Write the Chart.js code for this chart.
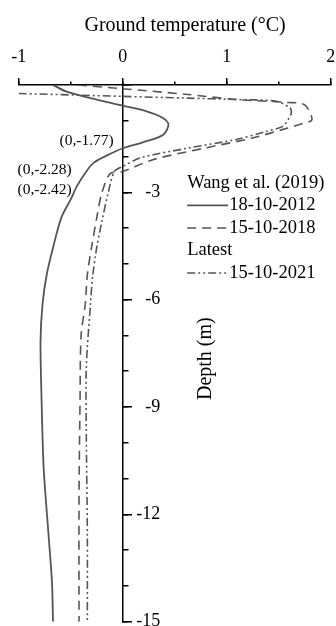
<!DOCTYPE html>
<html>
<head>
<meta charset="utf-8">
<script src="https://cdn.jsdelivr.net/npm/chart.js@4.4.0/dist/chart.umd.min.js"></script>
<style>
  html, body { margin: 0; padding: 0; background: #fff; }
  canvas { display: block; }
</style>
</head>
<body>
<canvas id="chart" width="336" height="626"></canvas>
<script>
// Ground temperature profiles (depth in m, temperature in degC)
const depth2012 = [0, -0.19, -0.37, -0.58, -0.74, -0.93, -1.11, -1.39, -1.6, -1.77, -1.97, -2.18, -2.46, -2.83, -3.2, -3.71, -4.55, -5.29, -6.1, -7.15, -8.8, -10.7, -12.5, -13.9, -15];
const temp2012  = [-0.67, -0.54, -0.31, 0, 0.23, 0.39, 0.44, 0.39, 0.2, 0, -0.15, -0.28, -0.36, -0.44, -0.5, -0.59, -0.67, -0.73, -0.77, -0.79, -0.78, -0.76, -0.715, -0.68, -0.67];

const depth2018 = [0, -0.1, -0.26, -0.41, -0.49, -0.56, -0.97, -1.08, -1.21, -1.49, -1.77, -2.09, -2.42, -2.48, -3.02, -3.72, -4.55, -5.3, -6.13, -7.0, -8.8, -11.6, -15];
const temp2018  = [-0.43, -0.03, 0.6, 1.1, 1.58, 1.75, 1.82, 1.73, 1.58, 1.24, 0.78, 0.29, 0, -0.12, -0.2, -0.25, -0.3, -0.34, -0.36, -0.4, -0.41, -0.42, -0.42];

const depth2021 = [-0.24, -0.32, -0.37, -0.41, -0.46, -0.65, -0.8, -0.97, -1.16, -1.3, -1.52, -1.77, -2.04, -2.28, -2.42, -3.02, -3.81, -4.55, -5.38, -6.13, -7.9, -9.75, -12.5, -15];
const temp2021  = [-1.0, 0, 0.62, 1.1, 1.48, 1.61, 1.62, 1.59, 1.54, 1.38, 1.1, 0.62, 0.17, 0, -0.08, -0.14, -0.2, -0.25, -0.29, -0.31, -0.35, -0.35, -0.34, -0.34];

const seriesNames = ['18-10-2012', '15-10-2018', '15-10-2021'];
const legendGroups = ['Wang et al. (2019)', 'Latest'];
const crossLabels = ['(0,-1.77)', '(0,-2.28)', '(0,-2.42)'];

const FONT = "'Liberation Serif', 'Times New Roman', serif";
const LINE = '#555555';

function toPoints(depths, temps) {
    return depths.map((d, i) => ({ x: temps[i], y: d }));
}

// keep the tick label overhang from shrinking the plot area
function noPadding(scale) {
    scale.paddingLeft = 0;
    scale.paddingRight = 0;
    scale.paddingTop = 0;
    scale.paddingBottom = 0;
}

// draws depth tick labels, titles, crossing labels and the grouped legend
const extras = {
    id: 'extras',
    afterDraw(chart) {
        const ctx = chart.ctx;
        const xs = chart.scales.x;
        const ys = chart.scales.y;
        ctx.save();
        ctx.fillStyle = '#000';
        ctx.textBaseline = 'middle';

        // depth tick labels, right of the zero line
        ctx.font = '18px ' + FONT;
        ctx.textAlign = 'right';
        const labelX = xs.getPixelForValue(0) + 37.5;
        ys.ticks.forEach(t => {
            if (t.value !== 0) {
                ctx.fillText(String(t.value), labelX, ys.getPixelForValue(t.value));
            }
        });

        // axis titles
        ctx.font = '20px ' + FONT;
        ctx.textAlign = 'center';
        ctx.fillText('Ground temperature (°C)', xs.getPixelForValue(0.6), 26);
        ctx.save();
        ctx.translate(xs.getPixelForValue(0.8), ys.getPixelForValue(-7.65));
        ctx.rotate(-Math.PI / 2);
        ctx.fillText('Depth (m)', 0, 0);
        ctx.restore();

        // zero crossing labels
        ctx.font = '15.5px ' + FONT;
        ctx.textAlign = 'right';
        ctx.fillText(crossLabels[0], xs.getPixelForValue(0) - 9, ys.getPixelForValue(-1.77) - 7);
        ctx.fillText(crossLabels[1], xs.getPixelForValue(-0.49), ys.getPixelForValue(-2.28) + 3);
        ctx.fillText(crossLabels[2], xs.getPixelForValue(-0.49), ys.getPixelForValue(-2.42) + 18);

        // legend
        const lx = xs.getPixelForValue(0.62);
        let ly = ys.getPixelForValue(-2.74);
        const rowH = 22.5;
        ctx.font = '18.5px ' + FONT;
        ctx.textAlign = 'left';
        const rows = [
            { text: legendGroups[0] },
            { ds: 0 },
            { ds: 1 },
            { text: legendGroups[1] },
            { ds: 2 }
        ];
        rows.forEach(r => {
            if (r.text) {
                ctx.fillText(r.text, lx, ly);
            } else {
                const ds = chart.data.datasets[r.ds];
                ctx.save();
                ctx.strokeStyle = ds.borderColor;
                ctx.lineWidth = ds.borderWidth;
                ctx.setLineDash(ds.borderDash || []);
                ctx.beginPath();
                ctx.moveTo(lx, ly);
                ctx.lineTo(lx + 41, ly);
                ctx.stroke();
                ctx.restore();
                ctx.fillText(ds.label, lx + 42, ly);
            }
            ly += rowH;
        });
        ctx.restore();
    }
};

const axisFont = { family: FONT, size: 18 };

new Chart(document.getElementById('chart'), {
    type: 'scatter',
    data: {
        datasets: [
            {
                label: seriesNames[0],
                data: toPoints(depth2012, temp2012),
                borderColor: LINE,
                borderWidth: 1.8,
                borderDash: []
            },
            {
                label: seriesNames[1],
                data: toPoints(depth2018, temp2018),
                borderColor: LINE,
                borderWidth: 1.6,
                borderDash: [9, 6]
            },
            {
                label: seriesNames[2],
                data: toPoints(depth2021, temp2021),
                borderColor: LINE,
                borderWidth: 1.6,
                borderDash: [8, 3, 2, 3, 2, 3]
            }
        ].map(ds => Object.assign(ds, { showLine: true, pointRadius: 0, tension: 0.3, fill: false }))
    },
    options: {
        responsive: false,
        animation: false,
        layout: { padding: { left: 18.7, right: 5.3, top: 37.3, bottom: 4.3 } },
        plugins: {
            legend: { display: false },
            tooltip: { enabled: false }
        },
        scales: {
            x: {
                type: 'linear',
                position: 'top',
                min: -1,
                max: 2,
                afterFit: noPadding,
                ticks: { stepSize: 1, color: '#000', font: axisFont, padding: 9.5 },
                grid: { drawOnChartArea: false, tickLength: 7, color: '#000', lineWidth: 1.5 },
                border: { color: '#000', width: 1.5 }
            },
            xMinor: {
                type: 'linear',
                axis: 'x',
                position: { y: 0 },
                min: -1,
                max: 2,
                afterFit: noPadding,
                ticks: { stepSize: 0.5, display: false },
                grid: { drawOnChartArea: false, tickLength: -3.5, color: '#000', lineWidth: 1.5 },
                border: { display: false }
            },
            y: {
                type: 'linear',
                position: { x: 0 },
                min: -15,
                max: 0,
                afterFit: noPadding,
                ticks: { stepSize: 3, display: false },
                grid: { drawOnChartArea: false, tickLength: -10, color: '#000', lineWidth: 1.5 },
                border: { color: '#000', width: 1.5 }
            },
            yMinor: {
                type: 'linear',
                axis: 'y',
                position: { x: 0 },
                min: -15,
                max: 0,
                afterFit: noPadding,
                ticks: { stepSize: 1, display: false },
                grid: { drawOnChartArea: false, tickLength: -5.5, color: '#000', lineWidth: 1.5 },
                border: { display: false }
            }
        }
    },
    plugins: [extras]
});
</script>
</body>
</html>
